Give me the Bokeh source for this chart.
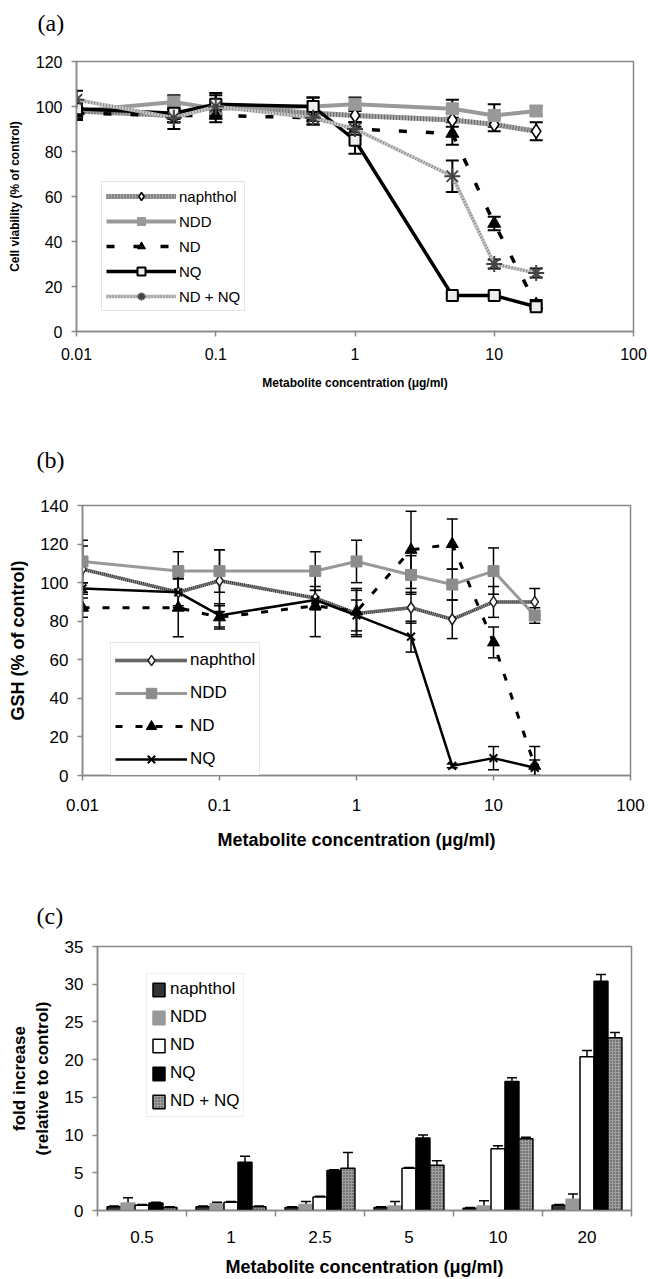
import math
from bokeh.plotting import figure
from bokeh.models import (ColumnDataSource, Whisker, TeeHead, Legend, LegendItem,
                          FixedTicker, CustomJSTickFormatter, Range1d)
from bokeh.layouts import column
from bokeh.embed import file_html
from bokeh.resources import INLINE

FONT = "Liberation Sans"
SERIF = "Liberation Serif"

# ---------------- (a) cell viability ----------------
a_conc = [0.01, 0.05, 0.1, 0.5, 1, 5, 10, 20]
a_naphthol = [98, 96, 100, 97, 96, 94, 92, 89]
a_naphthol_err = [3, 3, 3, 3, 3, 3, 3, 4]
a_ndd = [98, 102, 99, 100, 101, 99, 96, 98]
a_ndd_err = [3, 3, 3, 4, 3, 4, 5, 2]
a_nd = [97, 96, 96, 95, 90, 88, 48, 12]
a_nd_err = [3, 3, 3, 3, 3, 5, 3, 2]
a_nq = [99, 97, 101, 100, 85, 16, 16, 11]
a_nq_err = [3, 4, 5, 4, 6, 1, 1, 1]
a_ndnq = [103, 95, 100, 95, 90, 69, 30, 26]
a_ndnq_err = [4, 5, 5, 3, 3, 7, 2, 2]

# ---------------- (b) GSH ----------------
b_conc = [0.01, 0.05, 0.1, 0.5, 1, 2.5, 5, 10, 20]
b_naphthol = [107, 95, 101, 92, 84, 87, 81, 90, 90]
b_naphthol_err = [12, 7, 16, 6, 12, 8, 10, 8, 7]
b_ndd = [111, 106, 106, 106, 111, 104, 99, 106, 83]
b_ndd_err = [11, 10, 11, 10, 11, 10, 8, 12, 4]
b_nd = [87, 87, 82, 88, 85, 117, 120, 69, 5]
b_nd_err = [5, 15, 6, 16, 12, 20, 13, 8, 10]
b_nq = [97, 95, 83, 91, 83, 72, 5, 9, 4]
b_nq_err = [3, 8, 6, 5, 8, 8, 1, 6, 4]

# ---------------- (c) fold increase ----------------
c_labels = ["0.5", "1", "2.5", "5", "10", "20"]
c_naphthol = [0.5, 0.5, 0.4, 0.4, 0.3, 0.7]
c_naphthol_err = [0.1, 0.1, 0.1, 0.1, 0.1, 0.1]
c_ndd = [1.0, 0.9, 0.8, 0.6, 0.6, 1.5]
c_ndd_err = [0.7, 0.2, 0.4, 0.6, 0.7, 0.7]
c_nd = [0.7, 1.1, 1.8, 5.6, 8.2, 20.4]
c_nd_err = [0.1, 0.1, 0.1, 0.1, 0.4, 0.8]
c_nq = [1.0, 6.4, 5.3, 9.6, 17.1, 30.4]
c_nq_err = [0.1, 0.8, 0.1, 0.4, 0.5, 0.9]
c_ndnq = [0.4, 0.5, 5.6, 6.0, 9.5, 22.9]
c_ndnq_err = [0.1, 0.1, 2.1, 0.6, 0.2, 0.7]

series_names = ["naphthol", "NDD", "ND", "NQ", "ND + NQ"]
log_ticks = [0.01, 0.1, 1, 10, 100]
x_title = "Metabolite concentration (\u03bcg/ml)"


def src(x, y, e):
    return ColumnDataSource(dict(x=x, y=y,
                                 up=[a + b for a, b in zip(y, e)],
                                 lo=[a - b for a, b in zip(y, e)]))


def style(p, tick_px, xstand, ystand, title_px, xls, yls):
    p.outline_line_color = "#888888"
    p.outline_line_width = 1.5
    p.xgrid.visible = False
    p.ygrid.visible = False
    p.background_fill_color = "white"
    p.border_fill_color = "white"
    for ax in p.axis:
        ax.axis_line_color = "#888888"
        ax.axis_line_width = 1.5
        ax.major_tick_line_color = "#888888"
        ax.major_tick_line_width = 1.5
        ax.major_tick_out = 5
        ax.major_tick_in = 0
        ax.minor_tick_line_color = None
        ax.major_label_text_font = FONT
        ax.major_label_text_font_size = tick_px
        ax.major_label_text_color = "black"
        ax.axis_label_text_font = FONT
        ax.axis_label_text_font_style = "bold"
        ax.axis_label_text_font_size = title_px
        ax.axis_label_text_color = "black"
    p.xaxis.major_label_standoff = xstand
    p.yaxis.major_label_standoff = ystand
    p.xaxis.axis_label_standoff = xls
    p.yaxis.axis_label_standoff = yls


def panel_title(p, text, offset, standoff):
    p.title.text = text
    p.title.align = "left"
    p.title.vertical_align = "bottom"
    p.title.offset = offset
    p.title.standoff = standoff
    p.title.text_font = SERIF
    p.title.text_font_size = "24px"
    p.title.text_font_style = "normal"
    p.title.text_color = "black"


def whisk(p, s, head, lw):
    w = Whisker(source=s, base="x", upper="up", lower="lo", dimension="height",
                line_color="black", line_width=lw,
                upper_head=TeeHead(size=head, line_color="black", line_width=lw),
                lower_head=TeeHead(size=head, line_color="black", line_width=lw))
    p.add_layout(w)


log_fmt = CustomJSTickFormatter(code="return String(tick);")

# ======================= panel (a) =======================
pa = figure(width=648, height=400, x_axis_type="log",
            x_range=Range1d(0.01, 100), y_range=Range1d(0, 120),
            output_backend="svg", toolbar_location=None,
            min_border_left=76, min_border_right=15,
            min_border_top=61, min_border_bottom=69)
pa.frame_align = False
pa.xaxis.ticker = FixedTicker(ticks=log_ticks)
pa.xaxis.formatter = log_fmt
pa.yaxis.ticker = FixedTicker(ticks=list(range(0, 121, 20)))
pa.xaxis.axis_label = x_title
pa.yaxis.axis_label = "Cell viability (% of control)"
style(pa, "16px", 11, 9, "12px", 13, 11)
panel_title(pa, "(a)\n\u00a0", -39, 0)

sa = [src(a_conc, a_naphthol, a_naphthol_err), src(a_conc, a_ndd, a_ndd_err),
      src(a_conc, a_nd, a_nd_err), src(a_conc, a_nq, a_nq_err),
      src(a_conc, a_ndnq, a_ndnq_err)]

items_a = []
r1 = pa.line("x", "y", source=sa[0], line_color="#a8a8a8", line_width=5)
r2 = pa.line("x", "y", source=sa[0], line_color="#666666", line_width=5, line_dash="1 2")
whisk(pa, sa[0], 13, 2)
r3 = pa.scatter("x", "y", source=sa[0], marker="diamond", size=14,
                fill_color="white", line_color="black", line_width=1.5)
items_a.append(LegendItem(label=series_names[0], renderers=[r1, r2, r3]))

r1 = pa.line("x", "y", source=sa[1], line_color="#999999", line_width=4)
whisk(pa, sa[1], 13, 2)
r3 = pa.scatter("x", "y", source=sa[1], marker="square", size=12,
                fill_color="#999999", line_color="#999999")
items_a.append(LegendItem(label=series_names[1], renderers=[r1, r3]))

r1 = pa.line("x", "y", source=sa[2], line_color="black", line_width=3.5, line_dash="8 19")
whisk(pa, sa[2], 13, 2)
r3 = pa.scatter("x", "y", source=sa[2], marker="triangle", size=13,
                fill_color="black", line_color="black")
items_a.append(LegendItem(label=series_names[2], renderers=[r1, r3]))

r1 = pa.line("x", "y", source=sa[3], line_color="black", line_width=3.5)
whisk(pa, sa[3], 13, 2)
r3 = pa.scatter("x", "y", source=sa[3], marker="square", size=11,
                fill_color="#eeeeee", line_color="black", line_width=2)
items_a.append(LegendItem(label=series_names[3], renderers=[r1, r3]))

r1 = pa.line("x", "y", source=sa[4], line_color="#c8c8c8", line_width=3.5)
r2 = pa.line("x", "y", source=sa[4], line_color="#8a8a8a", line_width=3.5, line_dash="1 2")
whisk(pa, sa[4], 13, 2)
r3 = pa.scatter("x", "y", source=sa[4], marker="asterisk", size=16,
                line_color="#444444", line_width=2)
items_a.append(LegendItem(label=series_names[4], renderers=[r1, r2, r3]))

leg_a = Legend(items=items_a, location=(25, 20), label_text_font=FONT,
               label_text_font_size="15px", label_text_color="black",
               glyph_width=70, glyph_height=20,
               label_height=20, spacing=5, padding=4, label_standoff=3, margin=0,
               border_line_color="#cccccc", background_fill_color="white",
               background_fill_alpha=1)
pa.add_layout(leg_a)

# ======================= panel (b) =======================
pb = figure(width=648, height=465, x_axis_type="log",
            x_range=Range1d(0.01, 100), y_range=Range1d(0, 140),
            output_backend="svg", toolbar_location=None,
            min_border_left=82, min_border_right=18,
            min_border_top=105, min_border_bottom=90)
pb.frame_align = False
pb.xaxis.ticker = FixedTicker(ticks=log_ticks)
pb.xaxis.formatter = log_fmt
pb.yaxis.ticker = FixedTicker(ticks=list(range(0, 141, 20)))
pb.xaxis.axis_label = x_title
pb.yaxis.axis_label = "GSH (% of control)"
style(pb, "17px", 18, 9, "18px", 16, 9)
panel_title(pb, "(b)", -46, 66)

sb = [src(b_conc, b_naphthol, b_naphthol_err), src(b_conc, b_ndd, b_ndd_err),
      src(b_conc, b_nd, b_nd_err), src(b_conc, b_nq, b_nq_err)]
items_b = []
r1 = pb.line("x", "y", source=sb[0], line_color="#9a9a9a", line_width=3.5)
r2 = pb.line("x", "y", source=sb[0], line_color="#333333", line_width=3.5, line_dash="1 1")
whisk(pb, sb[0], 11, 1.5)
r3 = pb.scatter("x", "y", source=sb[0], marker="diamond", size=11,
                fill_color="white", line_color="#222222", line_width=1.5)
items_b.append(LegendItem(label=series_names[0], renderers=[r1, r2, r3]))

r1 = pb.line("x", "y", source=sb[1], line_color="#999999", line_width=3)
whisk(pb, sb[1], 11, 1.5)
r3 = pb.scatter("x", "y", source=sb[1], marker="square", size=11,
                fill_color="#8c8c8c", line_color="#8c8c8c")
items_b.append(LegendItem(label=series_names[1], renderers=[r1, r3]))

r1 = pb.line("x", "y", source=sb[2], line_color="black", line_width=3, line_dash="7 13")
whisk(pb, sb[2], 11, 1.5)
r3 = pb.scatter("x", "y", source=sb[2], marker="triangle", size=12,
                fill_color="black", line_color="black")
items_b.append(LegendItem(label=series_names[2], renderers=[r1, r3]))

r1 = pb.line("x", "y", source=sb[3], line_color="black", line_width=2.5)
whisk(pb, sb[3], 11, 1.5)
r3 = pb.scatter("x", "y", source=sb[3], marker="x", size=11,
                line_color="black", line_width=2)
items_b.append(LegendItem(label=series_names[3], renderers=[r1, r3]))

leg_b = Legend(items=items_b, location=(28, -2), label_text_font=FONT,
               label_text_font_size="17px", label_text_color="black",
               glyph_width=72, glyph_height=26,
               label_height=26, spacing=7, padding=4, label_standoff=3, margin=0,
               border_line_color="#cccccc", background_fill_color="white",
               background_fill_alpha=1)
pb.add_layout(leg_b)

# ======================= panel (c) =======================
BAR_W = 0.157
pc = figure(width=648, height=414, x_range=Range1d(0, len(c_labels)),
            y_range=Range1d(0, 35), output_backend="svg", toolbar_location=None,
            min_border_left=97, min_border_right=17,
            min_border_top=81, min_border_bottom=67)
pc.frame_align = False
pc.xaxis.ticker = FixedTicker(ticks=[i + 0.5 for i in range(len(c_labels))],
                              minor_ticks=list(range(len(c_labels) + 1)))
pc.xaxis.formatter = CustomJSTickFormatter(
    args=dict(labels=c_labels),
    code="const i = Math.floor(tick); return (i >= 0 && i < labels.length) ? labels[i] : '';")
pc.yaxis.ticker = FixedTicker(ticks=list(range(0, 36, 5)))
pc.xaxis.axis_label = x_title
pc.yaxis.axis_label = "fold increase\n(relative to control)"
style(pc, "17px", 14, 9, "18px", 11, 10)
pc.yaxis.axis_label_text_font_size = "17px"
pc.xaxis.major_tick_out = 0
pc.xaxis.minor_tick_out = 6
pc.xaxis.minor_tick_in = 0
pc.xaxis.minor_tick_line_color = "#888888"
pc.xaxis.minor_tick_line_width = 1.5
panel_title(pc, "(c)", -61, 36)

c_series = [(c_naphthol, c_naphthol_err, dict(fill_color="#333333", line_color="black")),
            (c_ndd, c_ndd_err, dict(fill_color="#999999", line_color="#999999")),
            (c_nd, c_nd_err, dict(fill_color="white", line_color="black")),
            (c_nq, c_nq_err, dict(fill_color="black", line_color="black")),
            (c_ndnq, c_ndnq_err, dict(fill_color="#a0a0a0", line_color="black",
                                      hatch_pattern="dot", hatch_color="#333333",
                                      hatch_scale=3, hatch_weight=1))]
items_c = []
for j, (vals, errs, sty) in enumerate(c_series):
    xs = [i + 0.5 + (j - 2) * BAR_W for i in range(len(vals))]
    s = src(xs, vals, errs)
    r = pc.vbar(x="x", top="y", bottom=0, width=BAR_W, source=s, line_width=1.5, **sty)
    whisk(pc, s, 10, 1.5)
    items_c.append(LegendItem(label=series_names[j], renderers=[r]))

leg_c = Legend(items=items_c, location=(49, 93), label_text_font=FONT,
               label_text_font_size="17px", label_text_color="black",
               glyph_width=15, glyph_height=17,
               label_height=22, spacing=6, padding=4, label_standoff=4, margin=0,
               border_line_color="#dddddd", background_fill_color="white",
               background_fill_alpha=1)
pc.add_layout(leg_c)

layout = column(pa, pb, pc, spacing=0)
open("out.html", "w").write(file_html(layout, INLINE))
